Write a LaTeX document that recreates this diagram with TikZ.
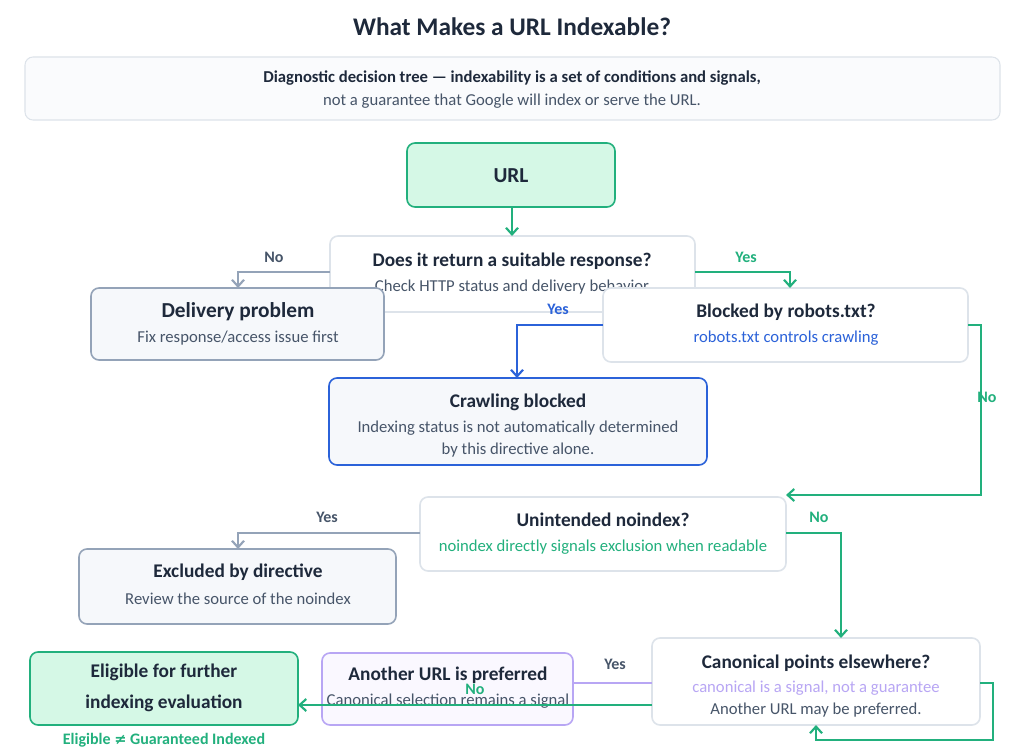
\documentclass[tikz,border=0pt]{standalone}
\usepackage{fontspec}
\setmainfont{Carlito}
\newfontfamily\symfont{DejaVu Sans}
\usetikzlibrary{positioning,arrows.meta}
\definecolor{ink}{HTML}{1E293B}
\definecolor{sub}{HTML}{475569}
\definecolor{grn}{HTML}{22B07D}
\definecolor{grnfill}{HTML}{D5F8E6}
\definecolor{gry}{HTML}{94A3B8}
\definecolor{gryfill}{HTML}{F6F8FB}
\definecolor{edge}{HTML}{DDE3EA}
\definecolor{blu}{HTML}{2B62D9}
\definecolor{prp}{HTML}{B8A6F4}
\definecolor{prpfill}{HTML}{FAF8FF}
\begin{document}
\begin{tikzpicture}[x=0.75pt,y=-0.75pt]
\tikzset{ >=latex, inner sep=0pt, outer sep=0pt,
  box/.style={draw=edge, line width=1.2pt, rounded corners=6pt, fill=white},
  head/.style={font=\fontsize{14.5}{17}\selectfont\bfseries, text=ink},
  note/.style={font=\fontsize{12.5}{15}\selectfont, text=sub},
  lbl/.style={font=\fontsize{12}{14}\selectfont\bfseries},
  link/.style={line width=1.6pt, ->, >={Straight Barb[length=5pt,width=9pt]}},
}

\useasboundingbox (0,0) rectangle (1024,756);
\fill[white] (0,0) rectangle (1024,756);

\node [font=\fontsize{19}{22}\selectfont\bfseries, text=ink] (title) at (512,27) {What Makes a URL Indexable?};
\draw [box, fill=gryfill!60, line width=0.8pt] (25,57) rectangle (1000,120);
\node [head, font=\fontsize{12.5}{15}\selectfont\bfseries] (s1) at (512,78) {Diagnostic decision tree — indexability is a set of conditions and signals,};
\node [note] (s2) at (512,101) {not a guarantee that Google will index or serve the URL.};

% boxes
\draw [box, draw=grn, fill=grnfill] (407,143) rectangle (615,207);
\node [head, font=\fontsize{16}{19}\selectfont\bfseries] (url) at (511,176) {URL};
\coordinate (urlS) at (512,207);

\draw [box] (330,236) rectangle (695,312);
\node [head] (q1) at (512,261) {Does it return a suitable response?};
\node [note] (q1n) at (512,287) {Check HTTP status and delivery behavior};
\coordinate (q1T) at (512,236);
\coordinate (q1W) at (330,272);
\coordinate (q1E) at (695,272);

\draw [box, draw=gry, fill=gryfill] (91,288) rectangle (384,360);
\node [head, font=\fontsize{16}{19}\selectfont\bfseries] (del) at (238,312) {Delivery problem};
\node [note] (deln) at (238,338) {Fix response/access issue first};
\coordinate (delN) at (238,288);

\draw [box] (603,288) rectangle (968,362);
\node [head] (rob) at (786,312) {Blocked by robots.txt?};
\node [note, text=blu] (robn) at (786,338) {robots.txt controls crawling};
\coordinate (robN) at (790,288);
\coordinate (robW) at (603,325);
\coordinate (robE) at (968,325);

\draw [box, draw=blu, fill=gryfill] (329,378) rectangle (707,465);
\node [head] (crawl) at (518,402) {Crawling blocked};
\node [note, align=center, font=\fontsize{12.5}{16.5}\selectfont] (crawln) at (518,439) {Indexing status is not automatically determined\\by this directive alone.};
\coordinate (crawlN) at (517,378);

\draw [box] (420,497) rectangle (786,571);
\node [head] (noi) at (603,520) {Unintended noindex?};
\node [note, text=grn] (noin) at (603,547) {noindex directly signals exclusion when readable};
\coordinate (noiE) at (786,495);
\coordinate (noiW) at (420,533);
\coordinate (noiR) at (786,533);

\draw [box, draw=gry, fill=gryfill] (79,549) rectangle (396,624);
\node [head] (exc) at (238,572) {Excluded by directive};
\node [note] (excn) at (238,599) {Review the source of the noindex};
\coordinate (excN) at (238,549);

\draw [box] (652,638) rectangle (980,725);
\node [head] (can) at (816,663) {Canonical points elsewhere?};
\node [note, text=prp] (cann) at (816,688) {canonical is a signal, not a guarantee};
\node [note] (cann2) at (816,710) {Another URL may be preferred.};
\coordinate (canN) at (841,638);
\coordinate (canW) at (652,683);
\coordinate (canL) at (652,705);
\coordinate (canE) at (980,683);
\coordinate (canS) at (816,725);

\draw [box, draw=prp, fill=prpfill] (322,653) rectangle (573,725);
\node [head] (alt) at (448,675) {Another URL is preferred};
\node [note] (altn) at (448,701) {Canonical selection remains a signal};
\coordinate (altE) at (573,683);

\draw [box, draw=grn, fill=grnfill] (30,652) rectangle (298,725);
\node [head, align=center, font=\fontsize{14.5}{23}\selectfont\bfseries] (elig) at (164,688) {Eligible for further\\indexing evaluation};
\node [lbl, text=grn] (eligl) at (164,740) {Eligible {\symfont\fontsize{11}{14}\selectfont ≠} Guaranteed Indexed};
\coordinate (eligE) at (298,705);

% connectors
\draw [link, grn] (urlS) -- (q1T);
\draw [link, gry] (q1W) -| (delN);
\draw [link, grn] (q1E) -| (robN);
\draw [link, blu] (robW) -| (crawlN);
\draw [link, grn] (robE) -- (981,325) |- (noiE);
\draw [link, gry] (noiW) -| (excN);
\draw [link, grn] (noiR) -| (canN);
\draw [line width=1.6pt, prp] (canW) -- (altE);
\draw [link, grn] (canL) -- (eligE);
\draw [link, grn] (canE) -- (993,683) |- (816,740) -- (canS);

\node [lbl, text=sub] at (274,257) {No};
\node [lbl, text=grn] at (746,257) {Yes};
\node [lbl, text=blu] at (558,309) {Yes};
\node [lbl, text=grn] at (987,397) {No};
\node [lbl, text=sub] at (327,517) {Yes};
\node [lbl, text=grn] at (819,517) {No};
\node [lbl, text=sub] at (615,664) {Yes};
\node [lbl, text=grn] at (475,689) {No};
\end{tikzpicture}
\end{document}
